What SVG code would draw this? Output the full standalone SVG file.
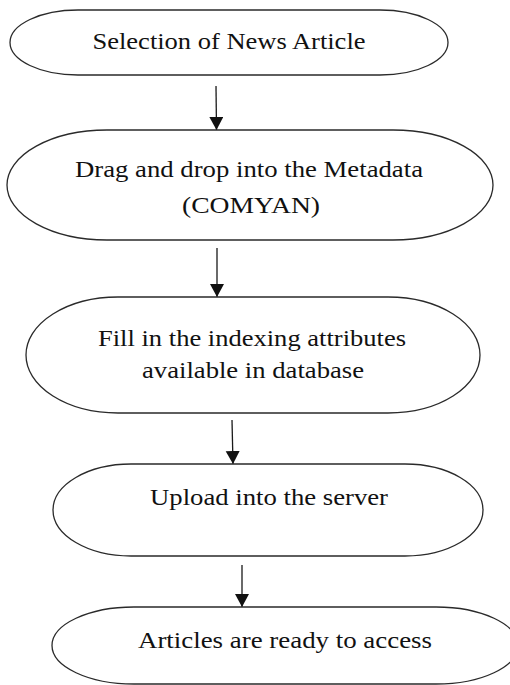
<svg xmlns="http://www.w3.org/2000/svg" width="510" height="685" viewBox="0 0 510 685">
  <style>
    .shape { fill: #ffffff; stroke: #2a2a2a; stroke-width: 1.3; }
    .label { font-family: "Liberation Serif", "Times New Roman", serif; font-size: 24px; fill: #111111; text-anchor: middle; }
    .conn { stroke: #1a1a1a; stroke-width: 1.3; fill: none; marker-end: url(#arrow); }
  </style>
  <defs>
    <marker id="arrow" markerUnits="userSpaceOnUse" markerWidth="14" markerHeight="16" refX="13" refY="7" orient="auto">
      <path d="M0,0 L13,7 L0,14 Z" fill="#111111"/>
    </marker>
  </defs>
  <rect width="510" height="685" fill="#ffffff"/>

  <g id="connectors">
    <line class="conn" x1="216" y1="86" x2="216.5" y2="130"/>
    <line class="conn" x1="217" y1="248" x2="217" y2="297"/>
    <line class="conn" x1="232" y1="420" x2="233" y2="464"/>
    <line class="conn" x1="242" y1="565" x2="242" y2="607"/>
  </g>

  <g id="node1">
    <rect class="shape" x="10" y="10" width="438" height="65" rx="68" ry="32.5"/>
    <text class="label" x="229" y="49" textLength="273" lengthAdjust="spacingAndGlyphs">Selection of News Article</text>
  </g>

  <g id="node2">
    <rect class="shape" x="7" y="130" width="486" height="110" rx="100" ry="55"/>
    <text class="label" x="249" y="177" textLength="348" lengthAdjust="spacingAndGlyphs">Drag and drop into the Metadata</text>
    <text class="label" x="251" y="213" textLength="138" lengthAdjust="spacingAndGlyphs">(COMYAN)</text>
  </g>

  <g id="node3">
    <rect class="shape" x="26" y="297" width="454" height="116" rx="92" ry="58"/>
    <text class="label" x="252" y="346" textLength="308" lengthAdjust="spacingAndGlyphs">Fill in the indexing attributes</text>
    <text class="label" x="253" y="378" textLength="222" lengthAdjust="spacingAndGlyphs">available in database</text>
  </g>

  <g id="node4">
    <rect class="shape" x="53" y="464" width="430" height="92" rx="78" ry="46"/>
    <text class="label" x="269" y="505" textLength="238" lengthAdjust="spacingAndGlyphs">Upload into the server</text>
  </g>

  <g id="node5">
    <rect class="shape" x="52" y="607" width="466" height="77" rx="82" ry="38.5"/>
    <text class="label" x="285" y="648" textLength="294" lengthAdjust="spacingAndGlyphs">Articles are ready to access</text>
  </g>
</svg>
